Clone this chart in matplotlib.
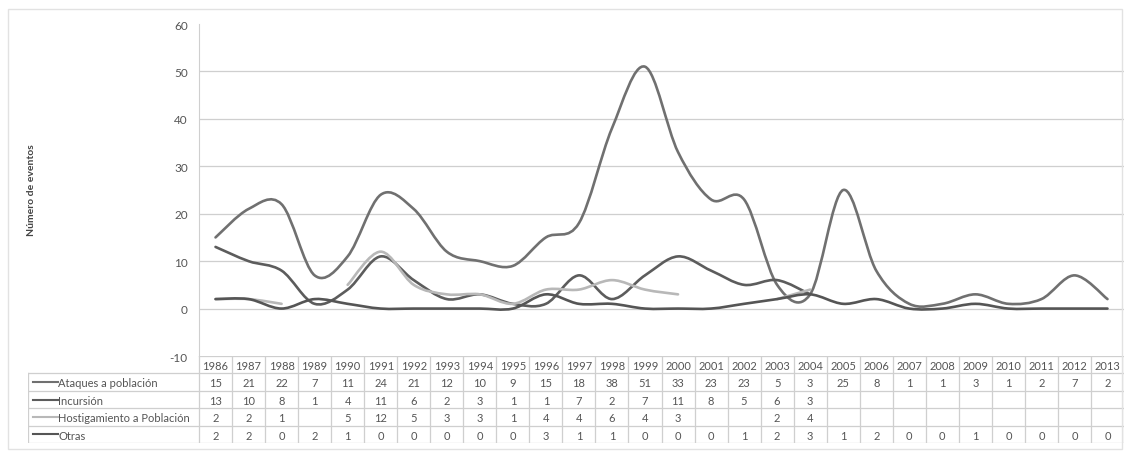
import matplotlib
matplotlib.use("Agg")
import matplotlib.pyplot as plt
from matplotlib.path import Path
from matplotlib.patches import PathPatch, Rectangle
from matplotlib.lines import Line2D
import numpy as np

years = list(range(1986, 2014))
ataques = [15, 21, 22, 7, 11, 24, 21, 12, 10, 9, 15, 18, 38, 51, 33, 23, 23, 5, 3, 25, 8, 1, 1, 3, 1, 2, 7, 2]
incursion = [13, 10, 8, 1, 4, 11, 6, 2, 3, 1, 1, 7, 2, 7, 11, 8, 5, 6, 3] + [None] * 9
hostigamiento = [2, 2, 1, None, 5, 12, 5, 3, 3, 1, 4, 4, 6, 4, 3, None, None, 2, 4] + [None] * 9
otras = [2, 2, 0, 2, 1, 0, 0, 0, 0, 0, 3, 1, 1, 0, 0, 0, 1, 2, 3, 1, 2, 0, 0, 1, 0, 0, 0, 0]

series_names = ["Ataques a población", "Incursión", "Hostigamiento a Población", "Otras"]
series_vals = [ataques, incursion, hostigamiento, otras]
series_colors = ["#707070", "#5c5c5c", "#b8b8b8", "#555555"]

FONT = "Lato"
TXT = "#555555"
GRID = "#cfcfcf"

W, H = 1126, 456


def fx(px):
    return px / W


def fy(py):
    return 1 - py / H


def smooth_path(xs, ys):
    # excel-like smoothed line: bezier control points from neighbours
    pts = np.column_stack([xs, ys]).astype(float)
    n = len(pts)
    verts = [pts[0]]
    codes = [Path.MOVETO]
    for i in range(n - 1):
        p0 = pts[i - 1] if i > 0 else pts[i]
        p1 = pts[i]
        p2 = pts[i + 1]
        p3 = pts[i + 2] if i + 2 < n else pts[i + 1]
        c1 = p1 + (p2 - p0) / 6.0
        c2 = p2 - (p3 - p1) / 6.0
        verts += [c1, c2, p2]
        codes += [Path.CURVE4] * 3
    return Path(verts, codes)


def segments(vals):
    segs, cur = [], []
    for i, v in enumerate(vals):
        if v is None:
            if cur:
                segs.append(cur)
            cur = []
        else:
            cur.append((i, v))
    if cur:
        segs.append(cur)
    return segs


fig = plt.figure(figsize=(W / 100, H / 100), dpi=100)

# chart area border
fig.patches.append(Rectangle((fx(8), fy(450)), fx(1122) - fx(8), fy(10) - fy(450),
                             transform=fig.transFigure, fill=False, edgecolor="#e2e2e2", lw=1))

ax_l, ax_r = 199, 1124
ax_t, ax_b = 25, 357
ax = fig.add_axes([fx(ax_l), fy(ax_b), fx(ax_r) - fx(ax_l), fy(ax_t) - fy(ax_b)])
n = len(years)
ax.set_xlim(-0.5, n - 0.5)
ax.set_ylim(-10, 60)
for s in ["top", "right", "bottom"]:
    ax.spines[s].set_visible(False)
ax.spines["left"].set_color(GRID)
ax.spines["left"].set_linewidth(0.8)
ax.set_xticks([])
ax.set_yticks(range(-10, 61, 10))
ax.set_yticklabels([str(v) for v in range(-10, 61, 10)], fontsize=8.5, color=TXT, family=FONT)
ax.tick_params(axis="y", length=0, pad=8)
for v in range(0, 51, 10):
    ax.axhline(v, color=GRID, lw=0.9, zorder=0)

for name, vals, col in zip(series_names, series_vals, series_colors):
    for seg in segments(vals):
        xs = [p[0] for p in seg]
        ys = [p[1] for p in seg]
        if len(seg) == 1:
            continue
        ax.add_patch(PathPatch(smooth_path(xs, ys), fill=False, edgecolor=col,
                               lw=1.9, capstyle="round", joinstyle="round", zorder=3))

fig.text(fx(31), fy(190), "Número de eventos", rotation=90, ha="center", va="center",
         fontsize=7.5, fontweight="bold", color="#444444", family=FONT)

# data table below the axes
unit = (ax_r - ax_l) / n
leg_l = 28
tab_t, tab_b = 357, 444
tax = fig.add_axes([fx(leg_l), fy(tab_b), fx(ax_r) - fx(leg_l), fy(tab_t) - fy(tab_b)])
left_units = (ax_l - leg_l) / unit
tax.set_xlim(-0.5 - left_units, n - 0.5)
nrows = len(series_names) + 1
tax.set_ylim(nrows, 0)
tax.axis("off")

x0 = -0.5 - left_units
xa = -0.5
xe = n - 0.5
# horizontal lines
tax.plot([xa, xe], [0, 0], color=GRID, lw=0.9)
for r in range(1, nrows + 1):
    tax.plot([x0, xe], [r, r], color=GRID, lw=0.9)
# vertical lines
tax.plot([x0, x0], [1, nrows], color=GRID, lw=0.9)
for k in range(n + 1):
    tax.plot([k - 0.5, k - 0.5], [0, nrows], color=GRID, lw=0.9)

for i, yr in enumerate(years):
    tax.text(i, 0.55, str(yr), ha="center", va="center", fontsize=8, color=TXT, family=FONT)

for r, (name, vals, col) in enumerate(zip(series_names, series_vals, series_colors), start=1):
    yc = r + 0.55
    tax.add_line(Line2D([x0 + 0.15, x0 + 0.9], [yc - 0.05, yc - 0.05], color=col, lw=1.5))
    tax.text(x0 + 0.92, yc, name, ha="left", va="center", fontsize=8, color=TXT, family=FONT)
    for i, v in enumerate(vals):
        if v is not None:
            tax.text(i, yc, str(v), ha="center", va="center", fontsize=8, color=TXT, family=FONT)

fig.savefig("out.png", dpi=100)
